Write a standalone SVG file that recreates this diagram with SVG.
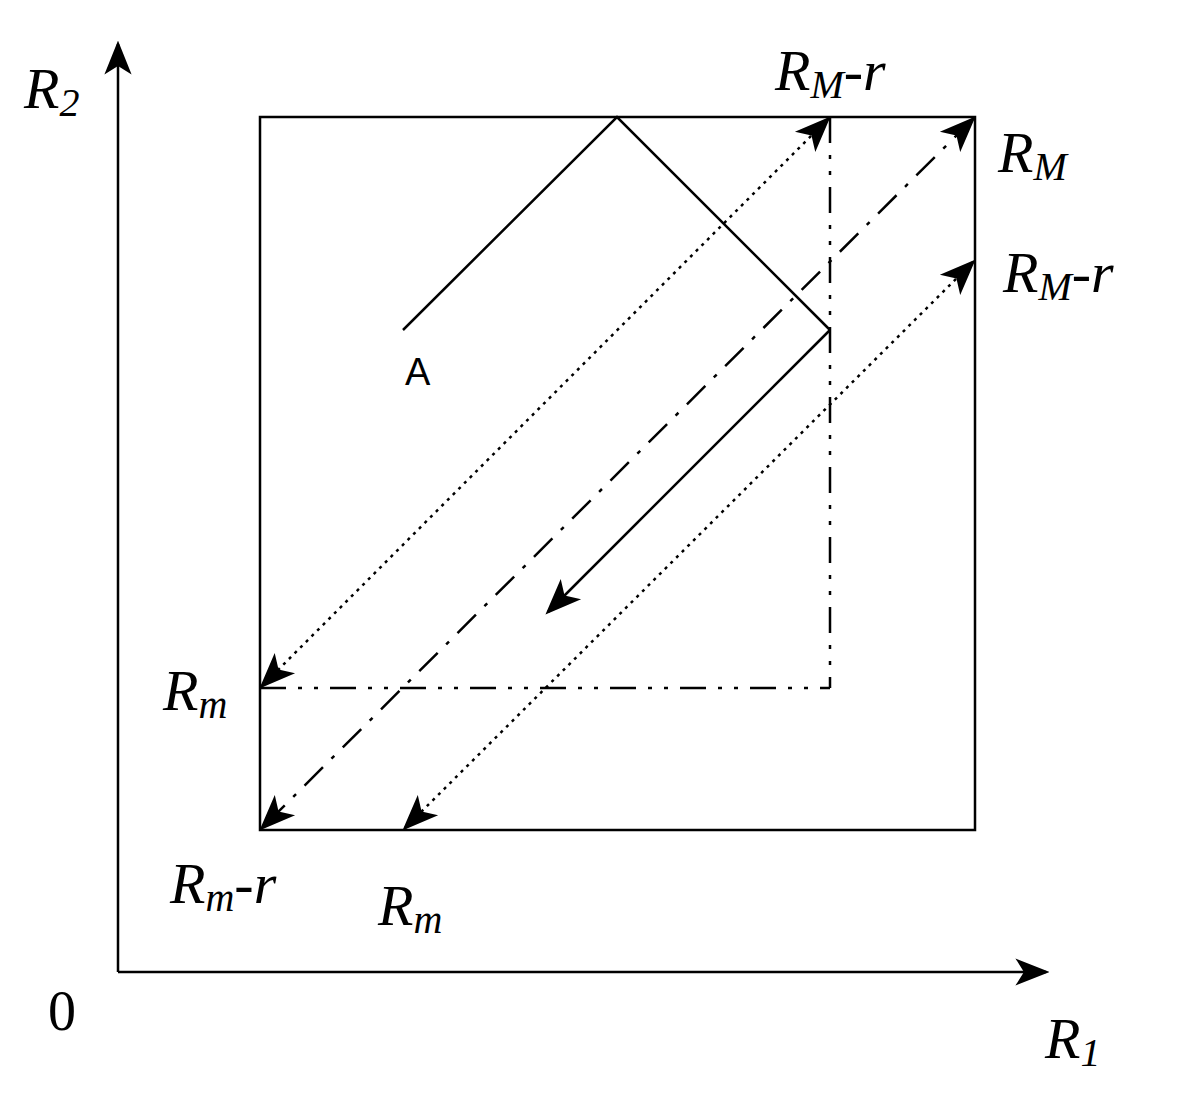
<svg xmlns="http://www.w3.org/2000/svg" width="1194" height="1110" viewBox="0 0 1194 1110">
<style>
.l{stroke:#000;stroke-width:2.5;fill:none}
.dot{stroke-dasharray:3 5}
.dd{stroke-dasharray:26 12 4 12}
.ddd{stroke-dasharray:26 12 4 12 4 12}
.t{font-family:"Liberation Serif",serif;font-style:italic;font-size:58px}
.s{font-size:40px}
</style>
<defs>
<marker id="ax" viewBox="0 0 10 10" refX="9" refY="5" markerWidth="34" markerHeight="34" markerUnits="userSpaceOnUse" orient="auto"><path d="M0,1 L10,5 L0,9 L2.5,5 Z" fill="#000"/></marker>
<marker id="ar" viewBox="0 0 10 10" refX="9" refY="5" markerWidth="36" markerHeight="36" markerUnits="userSpaceOnUse" orient="auto-start-reverse"><path d="M0,1 L10,5 L0,9 L2.5,5 Z" fill="#000"/></marker>
</defs>
<rect width="1194" height="1110" fill="#fff"/>
<g id="axes">
<line class="l" x1="118" y1="972" x2="118" y2="44" stroke-width="4" marker-end="url(#ax)"/>
<line class="l" x1="118" y1="972" x2="1046" y2="972" stroke-width="4" marker-end="url(#ax)"/>
</g>
<g id="box"><rect class="l" x="260" y="117" width="715" height="713" stroke-width="2"/></g>
<g id="connectors">
<polyline class="l" points="403,330 617,117 830,330"/>
<line class="l" x1="830" y1="330" x2="548" y2="612" stroke-width="3.5" marker-end="url(#ar)"/>
<line class="l dot" x1="828" y1="119" x2="262" y2="686" stroke-width="3.5" marker-start="url(#ar)" marker-end="url(#ar)"/>
<line class="l dd" x1="973" y1="119" x2="262" y2="828" stroke-width="3.5" marker-start="url(#ar)" marker-end="url(#ar)"/>
<line class="l dot" x1="973" y1="262" x2="405" y2="828" stroke-width="3.5" marker-start="url(#ar)" marker-end="url(#ar)"/>
<line class="l ddd" x1="830" y1="117" x2="830" y2="688" stroke-width="3"/>
<line class="l ddd" x1="260" y1="688" x2="830" y2="688" stroke-width="3"/>
</g>
<g id="labels">
<text class="t" x="24" y="108">R<tspan class="s" dy="8">2</tspan></text>
<text class="t" x="775" y="90">R<tspan class="s" dy="8">M</tspan><tspan dy="-8">-r</tspan></text>
<text class="t" x="998" y="172">R<tspan class="s" dy="8">M</tspan></text>
<text class="t" x="1003" y="292">R<tspan class="s" dy="8">M</tspan><tspan dy="-8">-r</tspan></text>
<text x="405" y="385" font-family="Liberation Sans,sans-serif" font-size="38">A</text>
<text class="t" x="163" y="710">R<tspan class="s" dy="8">m</tspan></text>
<text class="t" x="170" y="903">R<tspan class="s" dy="8">m</tspan><tspan dy="-8">-r</tspan></text>
<text class="t" x="378" y="925">R<tspan class="s" dy="8">m</tspan></text>
<text x="48" y="1030" font-family="Liberation Serif,serif" font-size="56">0</text>
<text class="t" x="1045" y="1058">R<tspan class="s" dy="8">1</tspan></text>
</g>
</svg>
